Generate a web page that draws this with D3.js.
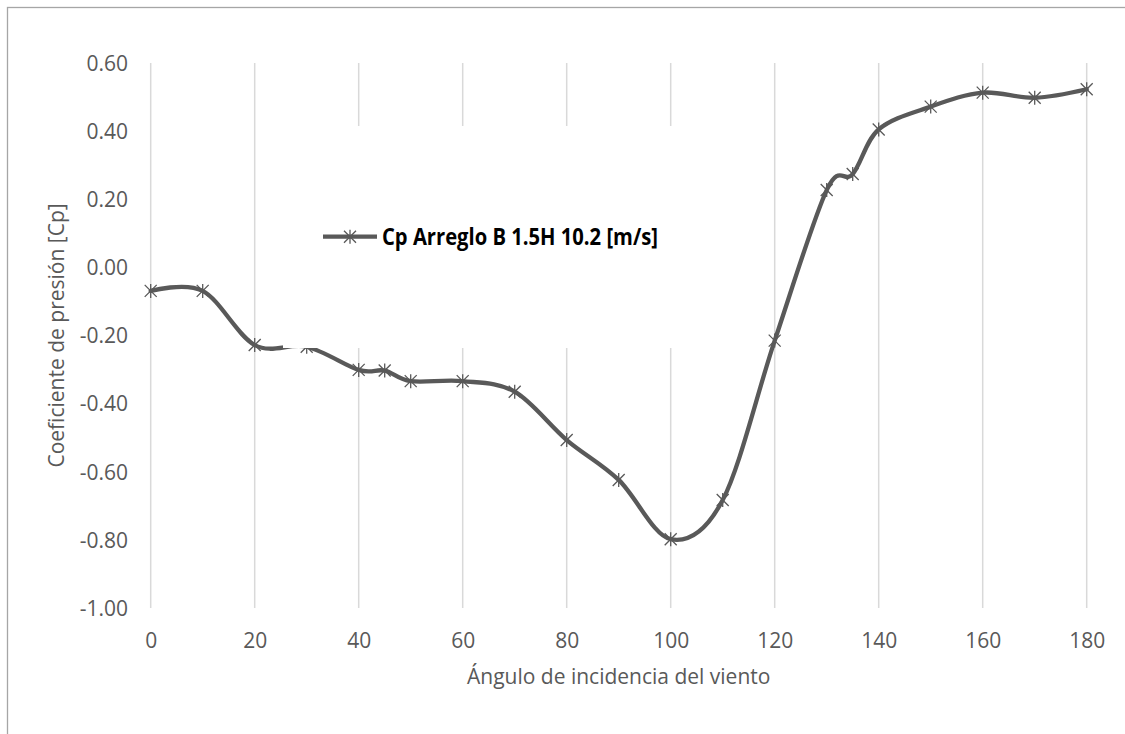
<!DOCTYPE html>
<html>
<head>
<meta charset="utf-8">
<script src="https://cdn.jsdelivr.net/npm/d3@7"></script>
<style>
  html, body { margin: 0; padding: 0; background: #fff; }
  svg { display: block; }
</style>
</head>
<body>
<svg id="chart" width="1125" height="734"></svg>
<script>
// Wind incidence angle (degrees) and measured pressure coefficient
const angles = [0, 10, 20, 30, 40, 45, 50, 60, 70, 80, 90, 100, 110, 120, 130, 135, 140, 150, 160, 170, 180];
const cpValues = [-0.069, -0.069, -0.228, -0.233, -0.301, -0.303, -0.334, -0.334, -0.365, -0.507, -0.624, -0.798, -0.683, -0.215, 0.227, 0.274, 0.405, 0.472, 0.513, 0.498, 0.523];
const xTicks = [0, 20, 40, 60, 80, 100, 120, 140, 160, 180];
const yTicks = [0.6, 0.4, 0.2, 0.0, -0.2, -0.4, -0.6, -0.8, -1.0];
const seriesName = "Cp Arreglo B 1.5H 10.2 [m/s]";
const xTitle = "Ángulo de incidencia del viento";
const yTitle = "Coeficiente de presión [Cp]";

const svg = d3.select("#chart");
const font = "'Open Sans', 'Noto Sans', sans-serif";
const grey = "#595959";

const plot = { left: 150.7, right: 1086.7, top: 63, bottom: 608 };
const x = d3.scaleLinear().domain([0, 180]).range([plot.left, plot.right]);
const y = d3.scaleLinear().domain([-1.0, 0.6]).range([plot.bottom, plot.top]);

// outer chart frame
svg.append("rect")
  .attr("x", 7.5).attr("y", 7.5)
  .attr("width", 1200).attr("height", 800)
  .attr("fill", "none").attr("stroke", "#a6a6a6").attr("stroke-width", 1.3);

// vertical gridlines
svg.append("g")
  .selectAll("line").data(xTicks).join("line")
  .attr("x1", d => x(d)).attr("x2", d => x(d))
  .attr("y1", plot.top).attr("y2", plot.bottom)
  .attr("stroke", "#d9d9d9").attr("stroke-width", 1.5);

// x tick labels
const xAxis = d3.axisBottom(x).tickValues(xTicks).tickSize(0).tickPadding(0).tickFormat(d3.format("d"));
const gx = svg.append("g").attr("transform", `translate(0, 648)`).call(xAxis);
gx.select(".domain").remove();
gx.selectAll("text").attr("dy", 0).attr("font-family", font).attr("font-size", 21).attr("fill", grey);

// y tick labels
const yAxis = d3.axisLeft(y).tickValues(yTicks).tickSize(0).tickPadding(0).tickFormat(d3.format(".2f"));
const gy = svg.append("g").attr("transform", `translate(128, 0)`).call(yAxis);
gy.select(".domain").remove();
gy.selectAll("text").attr("dy", "0.35em").attr("font-family", font).attr("font-size", 21).attr("fill", grey)
  .text(d => d3.format(".2f")(d).replace("−", "-"));

// axis titles
svg.append("text")
  .attr("x", (plot.left + plot.right) / 2).attr("y", 684)
  .attr("text-anchor", "middle")
  .attr("font-family", font).attr("font-size", 21).attr("fill", grey)
  .text(xTitle);
svg.append("text")
  .attr("transform", `translate(64, ${(plot.top + plot.bottom) / 2}) rotate(-90)`)
  .attr("text-anchor", "middle")
  .attr("font-family", font).attr("font-size", 21).attr("fill", grey)
  .text(yTitle);

// smoothed series line
const pts = angles.map((a, i) => [a, cpValues[i]]);
const line = d3.line().x(d => x(d[0])).y(d => y(d[1])).curve(d3.curveCatmullRom.alpha(0));
svg.append("path")
  .attr("d", line(pts))
  .attr("fill", "none").attr("stroke", grey).attr("stroke-width", 4.3)
  .attr("stroke-linejoin", "round").attr("stroke-linecap", "round");

// star markers
const star = "M-6,-6L6,6M-6,6L6,-6M0,-7L0,7";
svg.append("g")
  .selectAll("path").data(pts).join("path")
  .attr("transform", d => `translate(${x(d[0])},${y(d[1])})`)
  .attr("d", star)
  .attr("fill", "none").attr("stroke", grey).attr("stroke-width", 1.3);

// legend box, drawn above the plot
const legend = svg.append("g");
legend.append("rect")
  .attr("x", 283).attr("y", 126).attr("width", 417).attr("height", 222)
  .attr("fill", "#fff");
legend.append("line")
  .attr("x1", 323).attr("x2", 377).attr("y1", 236.7).attr("y2", 236.7)
  .attr("stroke", grey).attr("stroke-width", 4.3);
legend.append("path")
  .attr("transform", "translate(350,236.7)")
  .attr("d", star)
  .attr("fill", "none").attr("stroke", grey).attr("stroke-width", 1.3);
legend.append("text")
  .attr("x", 382).attr("y", 245)
  .attr("font-family", "'Liberation Sans Narrow', 'Open Sans', sans-serif")
  .attr("font-weight", "bold").attr("font-size", 23).attr("fill", "#000")
  .attr("textLength", 276).attr("lengthAdjust", "spacingAndGlyphs")
  .text(seriesName);
</script>
</body>
</html>
